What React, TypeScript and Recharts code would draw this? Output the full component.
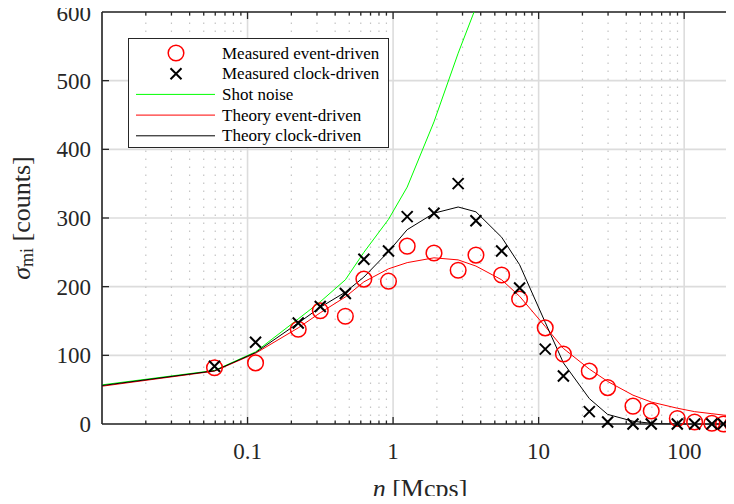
import React from "react";
import {
  CartesianGrid,
  ComposedChart,
  Legend,
  Line,
  ReferenceLine,
  Scatter,
  XAxis,
  YAxis,
} from "recharts";

// count rate n [Mcps] at which the theory curves are evaluated
const nGrid = [
  0.01, 0.0593, 0.1135, 0.223, 0.316, 0.47, 0.63, 0.93, 1.25, 1.91, 2.8, 3.71,
  5.57, 7.4, 11.1, 14.8, 22.3, 29.8, 44.5, 59.4, 89.7, 118, 155, 186, 215,
];
// measurements were taken at every grid point except the first
const nMeasured = nGrid.slice(1);

const measuredEvent = [
  82, 89, 138, 165, 157, 211, 208, 259, 249, 224, 246, 217, 182, 140, 102, 77,
  53, 26, 19, 8, 3, 1, 0, 0,
];
const measuredClock = [
  84, 119, 147, 171, 190, 240, 252, 302, 307, 350, 296, 252, 198, 109, 70, 18,
  3, 0, 0, 0, 0, 0, 0, 0,
];

const theoryEvent = [
  55, 77, 103, 140, 162, 185, 207, 226, 235, 242, 239, 230, 210, 186, 142, 110,
  80, 62, 42, 32, 23, 18, 15, 13, 12,
];
const theoryClock = [
  56, 77.5, 104, 147, 170, 192, 214, 251, 283, 307, 316, 309, 272, 232, 148, 89,
  37, 14, 4, 1, 0, 0, 0, 0, 0,
];

// shot noise leaves the plot at the top edge
const shotNoiseN = [...nGrid.slice(0, 11), 3.6];
const shotNoise = [57, 78, 105, 153, 178, 210, 250, 298, 345, 440, 540, 600];

const xTicks = [0.1, 1, 10, 100];
const yTicks = [0, 100, 200, 300, 400, 500, 600];

const toPoints = (xs: number[], ys: number[]) => xs.map((n, i) => ({ n, v: ys[i] }));

const eventPts = toPoints(nMeasured, measuredEvent);
const clockPts = toPoints(nMeasured, measuredClock);
const shotLine = toPoints(shotNoiseN, shotNoise);
const eventLine = toPoints(nGrid, theoryEvent);
const clockLine = toPoints(nGrid, theoryClock);

const FONT = "'Liberation Serif', 'Times New Roman', serif";
const AXIS = "#262626";

// minor decade positions 2..9 x 10^k inside the x range
const minorX: number[] = [];
for (let k = -2; k <= 2; k++) {
  for (let m = 2; m <= 9; m++) {
    const v = m * Math.pow(10, k);
    if (v < 220) minorX.push(Number(v.toPrecision(3)));
  }
}

const Ring = (p: any) => (
  <circle cx={p.cx} cy={p.cy} r={7.8} fill="none" stroke="#ff0000" strokeWidth={1.5} />
);

const Cross = (p: any) => {
  const { cx, cy } = p;
  const s = 5.5;
  return (
    <path
      d={`M${cx - s},${cy - s}L${cx + s},${cy + s}M${cx + s},${cy - s}L${cx - s},${cy + s}`}
      stroke="#000"
      strokeWidth={2}
      fill="none"
    />
  );
};

const legendRows = [
  { kind: "ring", label: "Measured event-driven" },
  { kind: "cross", label: "Measured clock-driven" },
  { kind: "line", color: "#00ff00", label: "Shot noise" },
  { kind: "line", color: "#ff0000", label: "Theory event-driven" },
  { kind: "line", color: "#000000", label: "Theory clock-driven" },
];

const LegendBox = () => (
  <div
    style={{
      width: 259,
      height: 108,
      border: `1px solid ${AXIS}`,
      background: "#fff",
    }}
  >
    <svg width={259} height={108}>
      {legendRows.map((r, i) => {
        const y = 14 + i * 20.7;
        return (
          <g key={r.label}>
            {r.kind === "ring" && <Ring cx={47} cy={y} />}
            {r.kind === "cross" && <Cross cx={47} cy={y} />}
            {r.kind === "line" && (
              <line x1={7} x2={86} y1={y} y2={y} stroke={r.color} strokeWidth={1} />
            )}
            <text
              x={93}
              y={y}
              dominantBaseline="central"
              fontFamily={FONT}
              fontSize={17}
              fill="#000"
            >
              {r.label}
            </text>
          </g>
        );
      })}
    </svg>
  </div>
);

const XTitle = (props: any) => {
  const { x, y, width } = props.viewBox;
  return (
    <text
      x={x + width / 2 + 2}
      y={y + 64}
      textAnchor="middle"
      dominantBaseline="central"
      fontFamily={FONT}
      fontSize={26}
      fill={AXIS}
    >
      <tspan fontStyle="italic">n</tspan> [Mcps]
    </text>
  );
};

const YTitle = (props: any) => {
  const { y, height } = props.viewBox;
  const cx = 21;
  const cy = y + height / 2;
  return (
    <text
      x={cx}
      y={cy}
      transform={`rotate(-90 ${cx} ${cy})`}
      textAnchor="middle"
      dominantBaseline="central"
      fontFamily={FONT}
      fontSize={26}
      fill={AXIS}
    >
      <tspan fontStyle="italic">σ</tspan>
      <tspan dy={6} fontSize={18}>mi</tspan>
      <tspan dy={-6}> [counts]</tspan>
    </text>
  );
};

// inward tick lengths in data units (about 7px major, 3.5px minor)
const MAJOR_Y = 10.2;
const MINOR_Y = 5.1;

export default function App() {
  return (
    <div style={{ margin: -8, width: 734, height: 504, overflow: "hidden", fontFamily: FONT }}>
      <ComposedChart
        width={734}
        height={504}
        margin={{ top: 12, right: 0, bottom: 0, left: 0 }}
      >
        <CartesianGrid stroke="#dcdcdc" strokeWidth={1.6} />
        {minorX.map((v) => (
          <ReferenceLine
            key={`g${v}`}
            x={v}
            stroke="#c4c4c4"
            strokeWidth={1.2}
            strokeDasharray="1.5 6.5"
          />
        ))}
        <XAxis
          dataKey="n"
          type="number"
          scale="log"
          domain={[0.01, 220]}
          ticks={xTicks}
          tickFormatter={(v) => String(v)}
          height={80}
          tickSize={0}
          tickMargin={19}
          tick={{ fontSize: 23, fill: AXIS, fontFamily: FONT }}
          axisLine={{ stroke: AXIS, strokeWidth: 1.6 }}
          label={{ content: XTitle }}
        />
        <YAxis
          dataKey="v"
          type="number"
          domain={[0, 600]}
          ticks={yTicks}
          width={102}
          tickSize={0}
          tickMargin={11}
          tick={{ fontSize: 23, fill: AXIS, fontFamily: FONT }}
          axisLine={{ stroke: AXIS, strokeWidth: 1.6 }}
          label={{ content: YTitle }}
        />
        <ReferenceLine y={600} stroke={AXIS} strokeWidth={1.6} />
        {minorX.map((v) => (
          <ReferenceLine
            key={`b${v}`}
            segment={[{ x: v, y: 0 }, { x: v, y: MINOR_Y }]}
            stroke={AXIS}
            strokeWidth={1.3}
          />
        ))}
        {minorX.map((v) => (
          <ReferenceLine
            key={`t${v}`}
            segment={[{ x: v, y: 600 }, { x: v, y: 600 - MINOR_Y }]}
            stroke={AXIS}
            strokeWidth={1.3}
          />
        ))}
        {xTicks.map((v) => (
          <ReferenceLine
            key={`bm${v}`}
            segment={[{ x: v, y: 0 }, { x: v, y: MAJOR_Y }]}
            stroke={AXIS}
            strokeWidth={1.3}
          />
        ))}
        {xTicks.map((v) => (
          <ReferenceLine
            key={`tm${v}`}
            segment={[{ x: v, y: 600 }, { x: v, y: 600 - MAJOR_Y }]}
            stroke={AXIS}
            strokeWidth={1.3}
          />
        ))}
        {yTicks.slice(1, -1).map((v) => (
          <ReferenceLine
            key={`ym${v}`}
            segment={[{ x: 0.01, y: v }, { x: 0.01117, y: v }]}
            stroke={AXIS}
            strokeWidth={1.3}
          />
        ))}
        <Scatter data={eventPts} dataKey="v" shape={Ring} isAnimationActive={false} />
        <Scatter data={clockPts} dataKey="v" shape={Cross} isAnimationActive={false} />
        <Line
          data={shotLine}
          dataKey="v"
          type="linear"
          stroke="#00ff00"
          strokeWidth={1}
          dot={false}
          activeDot={false}
          isAnimationActive={false}
        />
        <Line
          data={eventLine}
          dataKey="v"
          type="linear"
          stroke="#ff0000"
          strokeWidth={1}
          dot={false}
          activeDot={false}
          isAnimationActive={false}
        />
        <Line
          data={clockLine}
          dataKey="v"
          type="linear"
          stroke="#000000"
          strokeWidth={1}
          dot={false}
          activeDot={false}
          isAnimationActive={false}
        />
        <Legend
          layout="vertical"
          align="center"
          verticalAlign="middle"
          content={() => <LegendBox />}
          wrapperStyle={{ left: 128, top: 38, width: 261, height: 110 }}
        />
      </ComposedChart>
    </div>
  );
}
